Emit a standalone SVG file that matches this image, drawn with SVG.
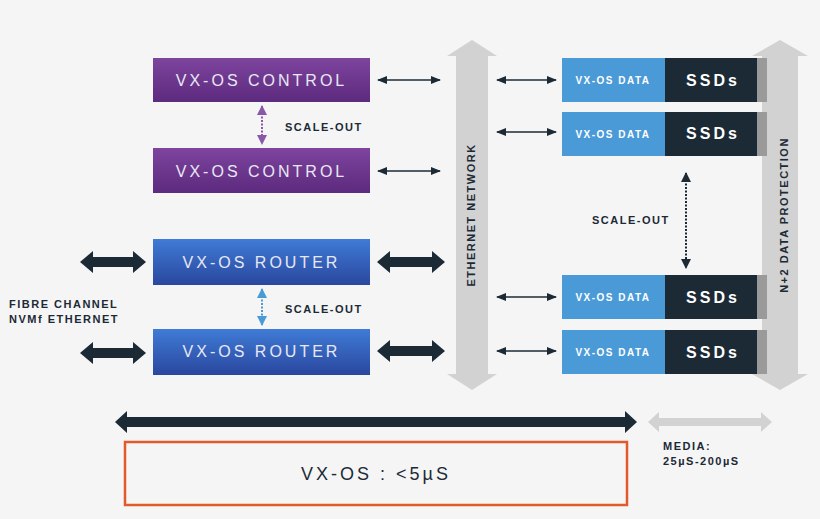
<svg xmlns="http://www.w3.org/2000/svg" width="820" height="519" viewBox="0 0 820 519">
<defs>
<linearGradient id="gp" x1="0" y1="0" x2="0" y2="1"><stop offset="0" stop-color="#7e449e"/><stop offset="1" stop-color="#5c2a7e"/></linearGradient>
<linearGradient id="gb" x1="0" y1="0" x2="0" y2="1"><stop offset="0" stop-color="#3f7bd6"/><stop offset="1" stop-color="#2a479e"/></linearGradient>
<marker id="ah" viewBox="0 0 10 10" refX="9" refY="5" markerWidth="7" markerHeight="7" orient="auto-start-reverse"><path d="M0,1 L10,5 L0,9 Z" fill="#1c2a36"/></marker>
<marker id="ap" viewBox="0 0 10 10" refX="9" refY="5" markerWidth="5" markerHeight="5" orient="auto-start-reverse"><path d="M0,0 L10,5 L0,10 Z" fill="#8a58a8"/></marker>
<marker id="ab" viewBox="0 0 10 10" refX="9" refY="5" markerWidth="5" markerHeight="5" orient="auto-start-reverse"><path d="M0,0 L10,5 L0,10 Z" fill="#4a9ad8"/></marker>
<marker id="ad" viewBox="0 0 10 10" refX="9" refY="5" markerWidth="5" markerHeight="5" orient="auto-start-reverse"><path d="M0,0 L10,5 L0,10 Z" fill="#1c2a36"/></marker>
</defs>
<style>
.bt{font-family:"Liberation Sans",Arial,sans-serif;fill:#e8e8f4;font-size:16px;letter-spacing:3px;text-anchor:middle}
.dt{font-family:"Liberation Sans",Arial,sans-serif;fill:#fff;font-size:10px;font-weight:bold;letter-spacing:1.5px;text-anchor:middle}
.st{font-family:"Liberation Sans",Arial,sans-serif;fill:#fff;font-size:16px;font-weight:bold;letter-spacing:3px;text-anchor:middle}
.lb{font-family:"Liberation Sans",Arial,sans-serif;fill:#1c2a36;font-size:11px;font-weight:bold;letter-spacing:1.5px}
.th{stroke:#1c2a36;stroke-width:1.5;marker-start:url(#ah);marker-end:url(#ah)}
.thick{fill:#1c2a36}
</style>
<rect width="820" height="519" fill="#f5f5f5"/>
<g id="ethernet">
<polygon points="472,40 497,56 488,56 488,374 497,374 472,390 447,374 456,374 456,56 447,56" fill="#d2d2d2"/>
<text class="lb" transform="translate(475,215) rotate(-90)" text-anchor="middle">ETHERNET NETWORK</text>
</g>
<g id="protection">
<polygon points="780,40 808,56 798,56 798,374 808,374 780,390 752,374 762,374 762,56 752,56" fill="#d2d2d2"/>
<text class="lb" transform="translate(788,215) rotate(-90)" text-anchor="middle">N+2 DATA PROTECTION</text>
</g>
<g id="control1"><rect x="153" y="58" width="217" height="44" fill="url(#gp)"/><text class="bt" x="261.5" y="86">VX-OS CONTROL</text></g>
<g id="control2"><rect x="153" y="148" width="217" height="45" fill="url(#gp)"/><text class="bt" x="261.5" y="177">VX-OS CONTROL</text></g>
<g id="router1"><rect x="153" y="239" width="217" height="46" fill="url(#gb)"/><text class="bt" x="261.5" y="268">VX-OS ROUTER</text></g>
<g id="router2"><rect x="153" y="329" width="217" height="46" fill="url(#gb)"/><text class="bt" x="261.5" y="357">VX-OS ROUTER</text></g>
<g id="data1"><rect x="562" y="58" width="103" height="44" fill="#4a9ad8"/><rect x="665" y="58" width="92" height="44" fill="#1c2a36"/><rect x="757" y="58" width="10" height="44" fill="#9a9a9a"/><text class="dt" x="613" y="84">VX-OS DATA</text><text class="st" x="713" y="86">SSDs</text></g>
<g id="data2"><rect x="562" y="112" width="103" height="44" fill="#4a9ad8"/><rect x="665" y="112" width="92" height="44" fill="#1c2a36"/><rect x="757" y="112" width="10" height="44" fill="#9a9a9a"/><text class="dt" x="613" y="138">VX-OS DATA</text><text class="st" x="713" y="139">SSDs</text></g>
<g id="data3"><rect x="562" y="275" width="103" height="44" fill="#4a9ad8"/><rect x="665" y="275" width="92" height="44" fill="#1c2a36"/><rect x="757" y="275" width="10" height="44" fill="#9a9a9a"/><text class="dt" x="613" y="301">VX-OS DATA</text><text class="st" x="713" y="303">SSDs</text></g>
<g id="data4"><rect x="562" y="330" width="103" height="44" fill="#4a9ad8"/><rect x="665" y="330" width="92" height="44" fill="#1c2a36"/><rect x="757" y="330" width="10" height="44" fill="#9a9a9a"/><text class="dt" x="613" y="356">VX-OS DATA</text><text class="st" x="713" y="358">SSDs</text></g>
<g id="labels">
<text class="lb" x="285" y="131">SCALE-OUT</text>
<text class="lb" x="285" y="313">SCALE-OUT</text>
<text class="lb" x="592" y="224">SCALE-OUT</text>
<text class="lb" x="9" y="308">FIBRE CHANNEL</text>
<text class="lb" x="9" y="323">NVMf ETHERNET</text>
<text class="lb" x="663" y="450">MEDIA:</text>
<text class="lb" x="663" y="465">25µS-200µS</text>
</g>
<g id="connectors">
<line class="th" x1="378" y1="80" x2="440" y2="80"/>
<line class="th" x1="378" y1="171" x2="440" y2="171"/>
<line class="th" x1="497" y1="80" x2="556" y2="80"/>
<line class="th" x1="497" y1="132" x2="556" y2="132"/>
<line class="th" x1="497" y1="297" x2="556" y2="297"/>
<line class="th" x1="497" y1="351" x2="556" y2="351"/>
<line x1="262" y1="106" x2="262" y2="144" stroke="#8a58a8" stroke-width="2" stroke-dasharray="2,1.5" marker-start="url(#ap)" marker-end="url(#ap)"/>
<line x1="262" y1="289" x2="262" y2="325" stroke="#4a9ad8" stroke-width="2" stroke-dasharray="2,1.5" marker-start="url(#ab)" marker-end="url(#ab)"/>
<line x1="686" y1="173" x2="686" y2="268" stroke="#1c2a36" stroke-width="2" stroke-dasharray="2,1.5" marker-start="url(#ad)" marker-end="url(#ad)"/>
<polygon class="thick" points="80,262 93,251 93,257 133,257 133,251 146,262 133,273 133,267 93,267 93,273"/>
<polygon class="thick" points="80,353 93,342 93,348 133,348 133,342 146,353 133,364 133,358 93,358 93,364"/>
<polygon class="thick" points="377,262 390,251 390,257 432,257 432,251 445,262 432,273 432,267 390,267 390,273"/>
<polygon class="thick" points="377,351 390,340 390,346 432,346 432,340 445,351 432,362 432,356 390,356 390,362"/>
<polygon class="thick" points="115,422 127,411 127,417 625,417 625,411 637,422 625,433 625,427 127,427 127,433"/>
<polygon fill="#d2d2d2" points="648,422 659,412 659,418 761,418 761,412 772,422 761,432 761,426 659,426 659,432"/>
</g>
<g id="latency">
<rect x="125" y="442" width="502" height="63" fill="none" stroke="#e05a2b" stroke-width="2.5"/>
<text class="bt" x="376" y="480" style="fill:#1c2a36;font-size:18px">VX-OS : &lt;5µS</text>
</g>
</svg>
